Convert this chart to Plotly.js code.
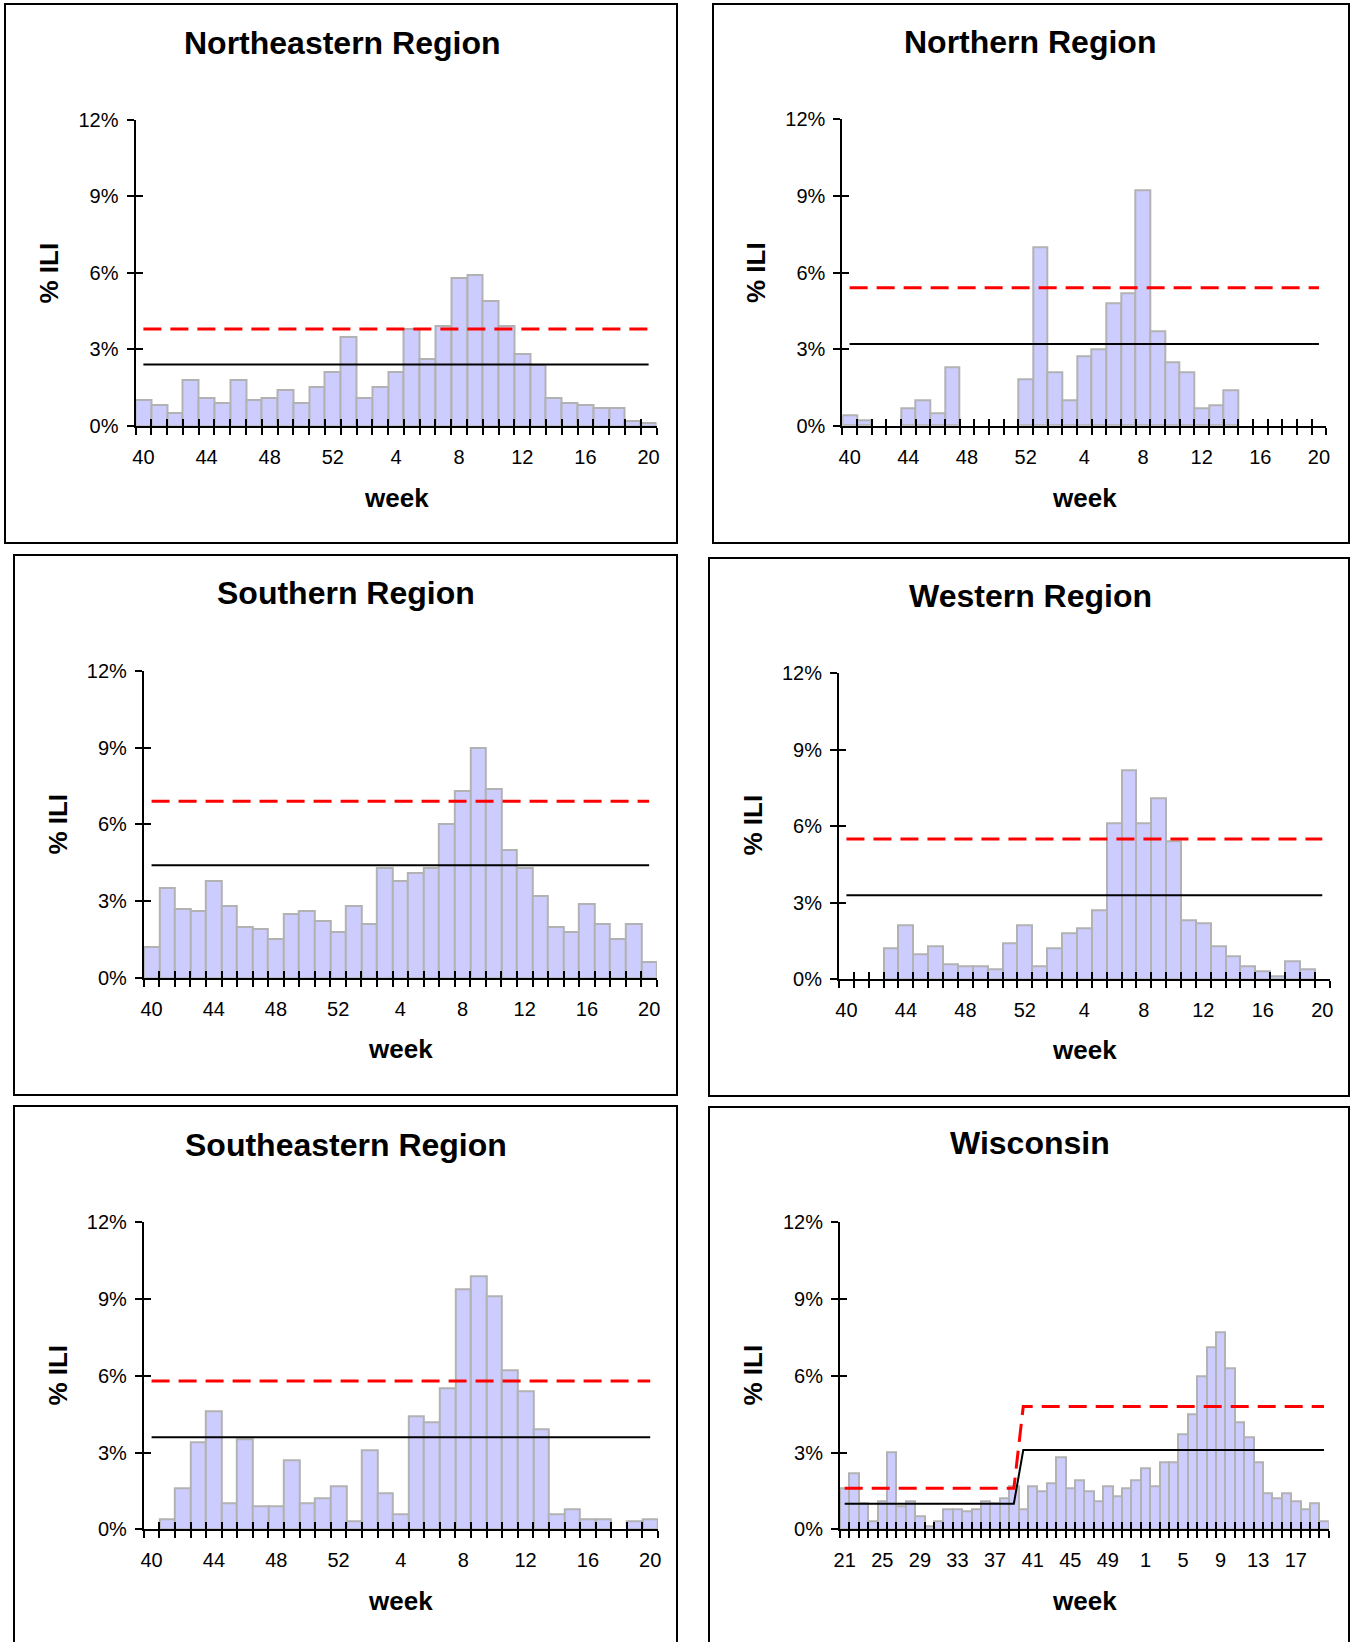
<!DOCTYPE html>
<html>
<head>
<meta charset="utf-8">
<script src="https://cdn.plot.ly/plotly-3.0.1.min.js"></script>
<style>
html, body { margin: 0; padding: 0; background: #ffffff; }
#chart { width: 1351px; height: 1642px; }
</style>
</head>
<body>
<div id="chart"></div>
<script>
// ---------------- DATA ----------------
const seasonWeeks = ['40','41','42','43','44','45','46','47','48','49','50','51','52',
  '1','2','3','4','5','6','7','8','9','10','11','12','13','14','15','16','17','18','19','20'];
const wisconsinWeeks = ['21','22','23','24','25','26','27','28','29','30','31','32','33','34','35','36',
  '37','38','39','40','41','42','43','44','45','46','47','48','49','50','51','52',
  '1','2','3','4','5','6','7','8','9','10','11','12','13','14','15','16','17','18','19','20'];

const seasonTickLabels = ['40','44','48','52','4','8','12','16','20'];
const wisconsinTickLabels = ['21','25','29','33','37','41','45','49','1','5','9','13','17'];
const yTickValues = [0, 3, 6, 9, 12];
const yTickLabels = ['0%', '3%', '6%', '9%', '12%'];

// % ILI per week
const northeasternILI = [1.0,0.8,0.5,1.8,1.1,0.9,1.8,1.0,1.1,1.4,0.9,1.5,2.1,3.5,1.1,1.5,2.1,3.8,2.6,3.9,5.8,5.9,4.9,3.9,2.8,2.4,1.1,0.9,0.8,0.7,0.7,0.2,0.1];
const northernILI = [0.4,0.2,null,null,0.7,1.0,0.5,2.3,null,null,null,null,1.8,7.0,2.1,1.0,2.7,3.0,4.8,5.2,9.2,3.7,2.5,2.1,0.7,0.8,1.4,null,null,null,null,null,null];
const southernILI = [1.2,3.5,2.7,2.6,3.8,2.8,2.0,1.9,1.5,2.5,2.6,2.2,1.8,2.8,2.1,4.3,3.8,4.1,4.3,6.0,7.3,9.0,7.4,5.0,4.3,3.2,2.0,1.8,2.9,2.1,1.5,2.1,0.6];
const westernILI = [null,null,null,1.2,2.1,1.0,1.3,0.6,0.5,0.5,0.4,1.4,2.1,0.5,1.2,1.8,2.0,2.7,6.1,8.2,6.1,7.1,5.4,2.3,2.2,1.3,0.9,0.5,0.3,0.1,0.7,0.4,null];
const southeasternILI = [null,0.4,1.6,3.4,4.6,1.0,3.5,0.9,0.9,2.7,1.0,1.2,1.7,0.3,3.1,1.4,0.6,4.4,4.2,5.5,9.4,9.9,9.1,6.2,5.4,3.9,0.6,0.8,0.4,0.4,null,0.3,0.4];
const wisconsinILI = [1.6,2.2,1.0,0.3,1.1,3.0,0.9,1.1,0.5,0.1,0.3,0.8,0.8,0.7,0.8,1.1,1.0,1.2,1.7,0.8,1.7,1.5,1.8,2.8,1.6,1.9,1.5,1.1,1.7,1.3,1.6,1.9,
  2.4,1.7,2.6,2.6,3.7,4.5,6.0,7.1,7.7,6.3,4.2,3.6,2.6,1.4,1.2,1.4,1.1,0.8,1.0,0.3];

// baseline (solid black) and threshold (dashed red) lines
const seasonLineWeeks = ['40','20'];
const northeasternBaseline = [2.4, 2.4];
const northeasternThreshold = [3.8, 3.8];
const northernBaseline = [3.2, 3.2];
const northernThreshold = [5.4, 5.4];
const southernBaseline = [4.4, 4.4];
const southernThreshold = [6.9, 6.9];
const westernBaseline = [3.3, 3.3];
const westernThreshold = [5.5, 5.5];
const southeasternBaseline = [3.6, 3.6];
const southeasternThreshold = [5.8, 5.8];
const wisconsinLineWeeks = ['21','39','40','20'];
const wisconsinBaseline = [1.0, 1.0, 3.1, 3.1];
const wisconsinThreshold = [1.6, 1.6, 4.8, 4.8];

// ---------------- LAYOUT HELPERS ----------------
const W = 1351, H = 1642;
const FONT = 'Liberation Sans, Arial, Helvetica, sans-serif';
const px = v => v / W;
const py = v => 1 - v / H;

const panels = [
  {title:'Northeastern Region', weeks:seasonWeeks, ili:northeasternILI, ticks:seasonTickLabels,
   lineWeeks:seasonLineWeeks, base:northeasternBaseline, thr:northeasternThreshold,
   box:[5,4,677,543], plot:[135.5,120,656.5,425.7], t:[342,43], wk:[396,497.5], il:[48.5,273]},
  {title:'Northern Region', weeks:seasonWeeks, ili:northernILI, ticks:seasonTickLabels,
   lineWeeks:seasonLineWeeks, base:northernBaseline, thr:northernThreshold,
   box:[713,4,1349,543], plot:[842.3,119.3,1326.3,425.7], t:[1030,42], wk:[1084,497.5], il:[756,273]},
  {title:'Southern Region', weeks:seasonWeeks, ili:southernILI, ticks:seasonTickLabels,
   lineWeeks:seasonLineWeeks, base:southernBaseline, thr:southernThreshold,
   box:[14,555,677,1095], plot:[143.8,671,656.9,977.7], t:[345.6,593], wk:[400,1049.4], il:[57.6,824]},
  {title:'Western Region', weeks:seasonWeeks, ili:westernILI, ticks:seasonTickLabels,
   lineWeeks:seasonLineWeeks, base:westernBaseline, thr:westernThreshold,
   box:[709,558,1349,1096], plot:[839,673.3,1329.7,979.3], t:[1030,596], wk:[1084,1050.4], il:[752.5,825]},
  {title:'Southeastern Region', weeks:seasonWeeks, ili:southeasternILI, ticks:seasonTickLabels,
   lineWeeks:seasonLineWeeks, base:southeasternBaseline, thr:southeasternThreshold,
   box:[14,1106,677,1670], plot:[143.8,1222.3,658,1529.3], t:[346,1145], wk:[400,1601], il:[57.6,1375]},
  {title:'Wisconsin', weeks:wisconsinWeeks, ili:wisconsinILI, ticks:wisconsinTickLabels,
   lineWeeks:wisconsinLineWeeks, base:wisconsinBaseline, thr:wisconsinThreshold,
   box:[709,1107,1349,1670], plot:[840,1222.3,1328.7,1529.3], t:[1030,1143], wk:[1084,1601], il:[752.5,1375]}
];

const traces = [];
const layout = {
  width: W, height: H,
  margin: {l:0, r:0, t:0, b:0, pad:0},
  paper_bgcolor: '#ffffff', plot_bgcolor: 'rgba(0,0,0,0)',
  showlegend: false,
  hovermode: 'closest',
  bargap: 0,
  font: {family: FONT, color: '#000000'},
  shapes: [], annotations: []
};

panels.forEach((p, k) => {
  const n = k + 1;
  const xs = n === 1 ? '' : String(n);
  const xId = 'x' + xs, yId = 'y' + xs;
  const ovX = 'x' + (n + 6), ovY = 'y' + (n + 6);
  const nW = p.weeks.length;
  const xIdx = p.weeks.map((w, i) => i);
  const lineX = p.lineWeeks.map(w => p.weeks.indexOf(w));

  traces.push({
    type: 'bar', x: xIdx, y: p.ili, xaxis: xId, yaxis: yId,
    customdata: p.weeks, hovertemplate: 'week %{customdata}: %{y}%<extra></extra>',
    marker: {color: '#CCCCFF', line: {color: '#B2B2B2', width: 2}}
  });
  // baseline drawn on the overlay x axis (same range), threshold on the overlay y axis
  traces.push({
    type: 'scatter', mode: 'lines', x: lineX, y: p.base, xaxis: ovX, yaxis: yId,
    line: {color: '#000000', width: 2}, hoverinfo: 'skip'
  });
  traces.push({
    type: 'scatter', mode: 'lines', x: lineX, y: p.thr, xaxis: xId, yaxis: ovY,
    line: {color: '#FF0000', width: 3, dash: '18px,9px'}, hoverinfo: 'skip'
  });

  const dx = [px(p.plot[0]), px(p.plot[2])];
  const dy = [py(p.plot[3]), py(p.plot[1])];
  const xr = [-0.5, nW - 0.5];

  layout['xaxis' + xs] = {
    domain: dx, anchor: yId, type: 'linear', range: xr, autorange: false,
    tickmode: 'array', tickvals: p.ticks.map(t => p.weeks.indexOf(t)), ticktext: p.ticks,
    ticks: '', showline: true, linecolor: '#000000', linewidth: 2,
    showgrid: false, zeroline: false, fixedrange: true,
    tickfont: {family: FONT, size: 20, color: '#000000'}, ticklabelstandoff: 12,
    minor: {tickmode: 'linear', tick0: -0.5, dtick: 1, ticks: 'outside', ticklen: 7,
            tickwidth: 2, tickcolor: '#000000', showgrid: false}
  };
  layout['yaxis' + xs] = {
    domain: dy, anchor: xId, range: [0, 12], autorange: false,
    tickmode: 'array', tickvals: yTickValues, ticktext: yTickLabels,
    ticks: 'outside', ticklen: 7, tickwidth: 2, tickcolor: '#000000',
    showline: true, linecolor: '#000000', linewidth: 2,
    showgrid: false, zeroline: false, fixedrange: true,
    tickfont: {family: FONT, size: 20, color: '#000000'}, ticklabelstandoff: 4
  };
  // overlay axes supply the inner half of the "cross" tick marks
  layout['xaxis' + (n + 6)] = {
    overlaying: xId, anchor: yId, side: 'bottom', type: 'linear', range: xr, autorange: false,
    tickmode: 'linear', tick0: -0.5, dtick: 1, ticks: 'inside', ticklen: 7,
    tickwidth: 2, tickcolor: '#000000', showticklabels: false,
    showline: false, showgrid: false, zeroline: false, fixedrange: true
  };
  layout['yaxis' + (n + 6)] = {
    overlaying: yId, anchor: xId, side: 'left', range: [0, 12], autorange: false,
    tickmode: 'array', tickvals: yTickValues, ticks: 'inside', ticklen: 7,
    tickwidth: 2, tickcolor: '#000000', showticklabels: false,
    showline: false, showgrid: false, zeroline: false, fixedrange: true
  };

  layout.shapes.push({
    type: 'rect', xref: 'paper', yref: 'paper',
    x0: px(p.box[0]), x1: px(p.box[2]), y0: py(p.box[3]), y1: py(p.box[1]),
    line: {color: '#000000', width: 2}, fillcolor: 'rgba(0,0,0,0)', layer: 'below'
  });
  layout.annotations.push({
    text: '<b>' + p.title + '</b>', xref: 'paper', yref: 'paper',
    x: px(p.t[0]), y: py(p.t[1]), xanchor: 'center', yanchor: 'middle', showarrow: false,
    font: {family: FONT, size: 32, color: '#000000'}
  });
  layout.annotations.push({
    text: '<b>week</b>', xref: 'paper', yref: 'paper',
    x: px(p.wk[0]), y: py(p.wk[1]), xanchor: 'center', yanchor: 'middle', showarrow: false,
    font: {family: FONT, size: 26, color: '#000000'}
  });
  layout.annotations.push({
    text: '<b>% ILI</b>', xref: 'paper', yref: 'paper', textangle: -90,
    x: px(p.il[0]), y: py(p.il[1]), xanchor: 'center', yanchor: 'middle', showarrow: false,
    font: {family: FONT, size: 26, color: '#000000'}
  });
});

Plotly.newPlot('chart', traces, layout, {displayModeBar: false, responsive: false});
</script>
</body>
</html>
